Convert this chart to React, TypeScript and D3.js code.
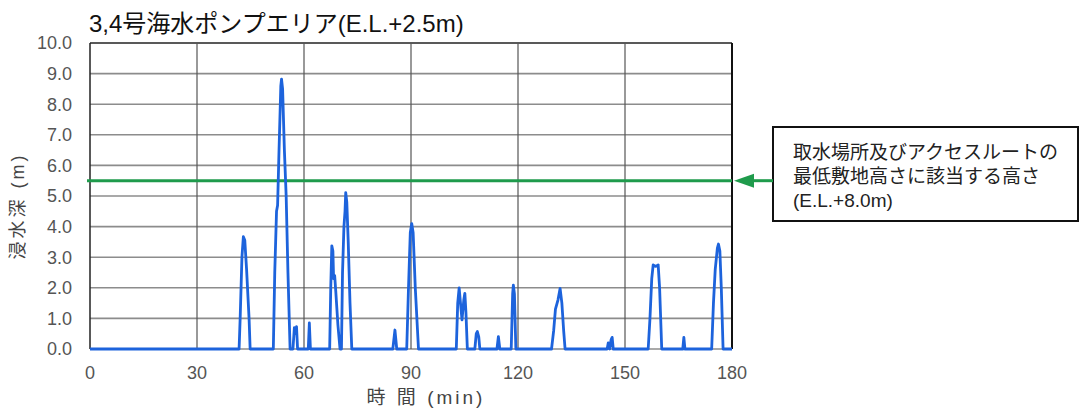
import React from "react";
import * as d3 from "d3";

const W = 1081;
const H = 412;

const title = "3,4号海水ポンプエリア(E.L.+2.5m)";
const yLabel = "浸水深 (m)";
const xLabel = "時 間 (min)";
const yTicks = [0, 1, 2, 3, 4, 5, 6, 7, 8, 9, 10];
const xTicks = [0, 30, 60, 90, 120, 150, 180];
const thresholdValue = 5.5;
const noteLines = ["取水場所及びアクセスルートの", "最低敷地高さに該当する高さ", "(E.L.+8.0m)"];

const timeMin = [
  0, 41.8, 42.1, 42.6, 43.0, 43.4, 43.9, 44.6, 44.9,
  51.4, 51.8, 52.3, 52.6, 53.0, 53.5, 53.7, 54.0, 54.5, 55.0, 55.5, 56.1,
  56.9, 57.3, 57.6, 57.9, 58.2,
  61.2, 61.5, 61.8,
  67.2, 67.5, 67.8, 68.1, 68.3, 68.6, 68.9, 69.5, 70.1,
  70.5, 70.8, 71.2, 71.5, 71.7, 72.0, 72.4, 72.9, 73.4,
  84.9, 85.5, 86.0,
  88.8, 89.3, 89.8, 90.2, 90.6, 91.2, 92.1,
  102.7, 103.1, 103.5, 103.8, 104.3, 104.8, 105.1, 105.4, 105.8,
  107.9, 108.3, 108.6, 109.0, 109.3,
  114.1, 114.5, 114.9,
  118.1, 118.5, 118.7, 119.0, 119.4,
  129.4, 130.0, 130.5, 131.2, 131.8, 132.3, 132.8, 133.2,
  145.0, 145.3, 145.7, 146.1, 146.4, 146.7,
  156.5, 157.0, 157.5, 157.9, 158.6, 159.3, 159.7, 160.3,
  166.2, 166.5, 166.8,
  174.3, 174.8, 175.3, 175.9, 176.2, 176.6, 177.0, 177.5, 180,
];
const depthM = [
  0, 0, 1.0, 3.0, 3.67, 3.55, 2.6, 1.0, 0,
  0, 2.5, 4.5, 4.7, 6.5, 8.6, 8.82, 8.5, 6.5, 5.0, 2.5, 0,
  0, 0.7, 0.5, 0.73, 0,
  0, 0.85, 0,
  0, 2.0, 3.37, 3.2, 2.3, 2.4, 1.9, 0.8, 0,
  0, 2.5, 4.0, 4.5, 5.11, 4.8, 3.5, 1.5, 0,
  0, 0.62, 0,
  0, 2.0, 3.8, 4.1, 3.8, 2.0, 0,
  0, 1.5, 2.0, 1.6, 0.95, 1.6, 1.82, 1.2, 0,
  0, 0.5, 0.57, 0.4, 0,
  0, 0.4, 0,
  0, 1.8, 2.09, 1.8, 0,
  0, 0.6, 1.3, 1.6, 1.98, 1.5, 0.6, 0,
  0, 0.2, 0, 0.3, 0.38, 0,
  0, 1.0, 2.3, 2.75, 2.7, 2.75, 2.0, 0,
  0, 0.38, 0,
  0, 1.5, 2.6, 3.3, 3.43, 3.2, 2.0, 0, 0,
];

const LATIN = "'Liberation Sans', Arial, 'Noto Sans CJK JP', sans-serif";
const CJK = "'Liberation Sans', 'Noto Sans CJK JP', sans-serif";

export default function App() {
  const left = 90;
  const right = 732;
  const top = 43;
  const bottom = 349;

  const x = d3.scaleLinear().domain([0, 180]).range([left, right]);
  const y = d3.scaleLinear().domain([0, 10]).range([bottom, top]);

  const pts: [number, number][] = timeMin.map((t, i) => [t, depthM[i]]);
  const line = d3
    .line<[number, number]>()
    .x((d) => x(d[0]))
    .y((d) => y(d[1]));

  const gy = y(thresholdValue);
  const boxL = 773;
  const boxT = 127;
  const boxR = 1078;
  const boxB = 221;
  const arrowTip = 734;

  return (
    <svg
      width={W}
      height={H}
      style={{ position: "absolute", left: 0, top: 0, background: "#fff" }}
    >
      <rect x={0} y={0} width={W} height={H} fill="#fff" />
      {yTicks.map((v) => (
        <line
          key={"hg" + v}
          x1={left}
          x2={right}
          y1={y(v)}
          y2={y(v)}
          stroke={v === 10 ? "#222" : "#8c8c8c"}
          strokeWidth={v === 10 ? 1.5 : 1.6}
        />
      ))}
      {xTicks.slice(1, -1).map((t) => (
        <line
          key={"vg" + t}
          x1={x(t)}
          x2={x(t)}
          y1={top}
          y2={bottom}
          stroke="#555"
          strokeWidth={1.2}
        />
      ))}
      <line x1={left} x2={left} y1={top} y2={bottom} stroke="#222" strokeWidth={1.5} />
      <line x1={right} x2={right} y1={top} y2={bottom} stroke="#111" strokeWidth={2} />

      <line x1={left - 3} x2={right} y1={gy} y2={gy} stroke="#1f9b4c" strokeWidth={3} />

      <path d={line(pts) || ""} fill="none" stroke="#1d63dc" strokeWidth={2.8} strokeLinejoin="round" />

      {yTicks.map((v) => (
        <text
          key={"yl" + v}
          x={72}
          y={y(v)}
          dy="0.36em"
          textAnchor="end"
          fontFamily={LATIN}
          fontSize={18}
          fill="#555"
        >
          {v.toFixed(1)}
        </text>
      ))}
      {xTicks.map((t) => (
        <text
          key={"xl" + t}
          x={x(t)}
          y={379}
          textAnchor="middle"
          fontFamily={LATIN}
          fontSize={18}
          fill="#555"
        >
          {t}
        </text>
      ))}
      <text
        x={x(90) + 15}
        y={404}
        textAnchor="middle"
        fontFamily={CJK}
        fontSize={19}
        letterSpacing={3}
        fill="#444"
      >
        {xLabel}
      </text>
      <text
        transform={`translate(24,206) rotate(-90)`}
        textAnchor="middle"
        fontFamily={CJK}
        fontSize={18}
        letterSpacing={3}
        fill="#444"
      >
        {yLabel}
      </text>
      <text x={89} y={32} fontFamily={CJK} fontSize={24} fill="#111">
        {title}
      </text>

      <rect
        x={boxL}
        y={boxT}
        width={boxR - boxL}
        height={boxB - boxT}
        fill="#fff"
        stroke="#111"
        strokeWidth={2}
      />
      {noteLines.map((s, i) => (
        <text
          key={"n" + i}
          x={793}
          y={159 + i * 24}
          fontFamily={CJK}
          fontSize={19}
          fill="#222"
        >
          {s}
        </text>
      ))}
      <line x1={boxL} x2={arrowTip + 14} y1={gy} y2={gy} stroke="#1f9b4c" strokeWidth={3} />
      <path
        d={`M${arrowTip},${gy} L${arrowTip + 20},${gy - 7} L${arrowTip + 20},${gy + 7} Z`}
        fill="#1f9b4c"
      />
    </svg>
  );
}
